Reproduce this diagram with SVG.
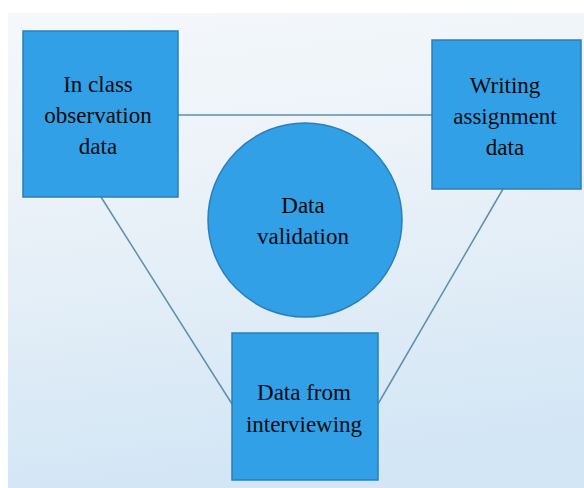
<svg xmlns="http://www.w3.org/2000/svg" width="584" height="488" viewBox="0 0 584 488">
  <defs>
    <linearGradient id="bg" x1="0" y1="0" x2="0.15" y2="1">
      <stop offset="0" stop-color="#f5f8fb"/>
      <stop offset="0.45" stop-color="#e9f1f8"/>
      <stop offset="1" stop-color="#d3e6f5"/>
    </linearGradient>
    <style>
      .node { fill: #31a0e7; stroke: #2a7fb8; stroke-width: 1.5; }
      .conn { stroke: #5e8fae; stroke-width: 1.5; fill: none; }
      .lbl { font-family: "Liberation Serif", "Times New Roman", serif; font-size: 23px; fill: #0a0a0a; text-anchor: middle; }
    </style>
  </defs>
  <rect x="0" y="0" width="584" height="488" fill="#ffffff"/>
  <rect x="8" y="13" width="576" height="475" fill="url(#bg)"/>
  <g id="connectors">
    <line class="conn" x1="178" y1="115" x2="432" y2="115"/>
    <line class="conn" x1="101" y1="197" x2="232" y2="404"/>
    <line class="conn" x1="503" y1="189" x2="378" y2="404"/>
  </g>
  <g id="node-observation">
    <rect class="node" x="23" y="31" width="155" height="166"/>
    <text class="lbl" x="98" y="92">In class</text>
    <text class="lbl" x="98" y="123">observation</text>
    <text class="lbl" x="98" y="154">data</text>
  </g>
  <g id="node-writing">
    <rect class="node" x="432" y="40" width="149" height="149"/>
    <text class="lbl" x="505" y="93">Writing</text>
    <text class="lbl" x="505" y="124">assignment</text>
    <text class="lbl" x="505" y="155">data</text>
  </g>
  <g id="node-validation">
    <circle class="node" cx="305" cy="220" r="97"/>
    <text class="lbl" x="303" y="213">Data</text>
    <text class="lbl" x="303" y="244">validation</text>
  </g>
  <g id="node-interviewing">
    <rect class="node" x="232" y="333" width="146" height="147"/>
    <text class="lbl" x="304" y="400">Data from</text>
    <text class="lbl" x="304" y="432">interviewing</text>
  </g>
</svg>
